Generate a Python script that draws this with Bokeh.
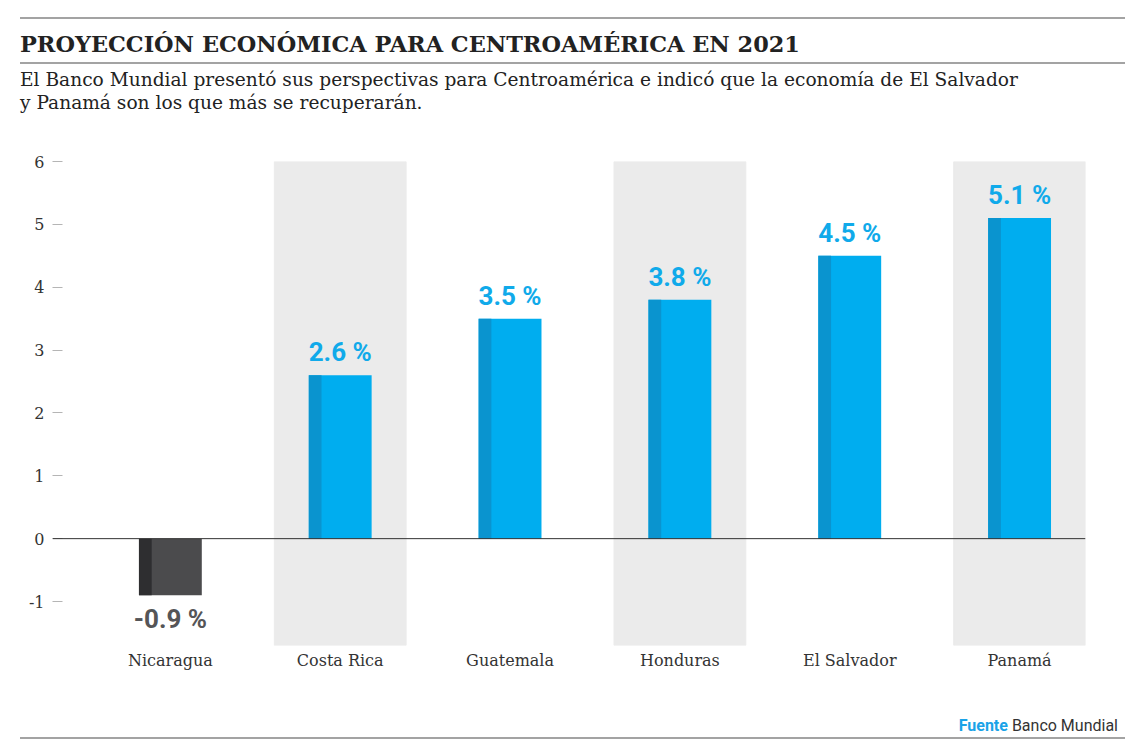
from bokeh.plotting import figure
from bokeh.models import ColumnDataSource, Span, Div, FixedTicker
from bokeh.layouts import column
from bokeh.core.properties import value
from bokeh.embed import file_html
from bokeh.resources import INLINE

countries = ["Nicaragua", "Costa Rica", "Guatemala", "Honduras", "El Salvador", "Panamá"]
growth = [-0.9, 2.6, 3.5, 3.8, 4.5, 5.1]
banded = ["Costa Rica", "Honduras", "Panamá"]
y_ticks = [-1, 0, 1, 2, 3, 4, 5, 6]
y_min, y_max = -1.7, 6

title_text = "PROYECCIÓN ECONÓMICA PARA CENTROAMÉRICA EN 2021"
subtitle_lines = ["El Banco Mundial presentó sus perspectivas para Centroamérica e indicó que la economía de El Salvador",
                  "y Panamá son los que más se recuperarán."]
source_label = "Fuente"
source_name = "Banco Mundial"

SERIF = "DejaVu Serif"
BAR_W = 0.37
STRIP_W = 0.075

xs = list(range(len(countries)))
pos = [v >= 0 for v in growth]
src = ColumnDataSource(dict(
    x=xs,
    v=growth,
    strip_x=[x - BAR_W / 2 + STRIP_W / 2 for x in xs],
    fill=["#00adef" if p else "#4b4b4d" for p in pos],
    strip=["#0a94cf" if p else "#2e2e30" for p in pos],
    label=[f"{v} %" for v in growth],
    lcolor=["#10aaea" if p else "#555557" for p in pos],
    yoff=[-8 if p else 9 for p in pos],
    base=["bottom" if p else "top" for p in pos],
))
band_src = ColumnDataSource(dict(x=[countries.index(c) for c in banded],
                                 top=[y_max] * len(banded), bottom=[y_min] * len(banded)))

p = figure(width=1140, height=570, x_range=(-0.694, 5.388), y_range=(y_min, y_max),
           output_backend="svg", toolbar_location=None,
           min_border_left=52, min_border_right=55, min_border_top=31, min_border_bottom=55)
p.outline_line_color = None
p.grid.visible = False
p.background_fill_color = "white"
p.border_fill_color = "white"

p.vbar(x="x", top="top", bottom="bottom", width=0.776, source=band_src, color="#ebebeb")
p.add_layout(Span(location=0, dimension="width", line_color="#333333", line_width=1))
p.vbar(x="x", top="v", bottom=0, width=BAR_W, source=src, fill_color="fill", line_color=None)
p.vbar(x="strip_x", top="v", bottom=0, width=STRIP_W, source=src, fill_color="strip", line_color=None)
p.text(x="x", y="v", text="label", source=src, text_color="lcolor", y_offset="yoff",
       text_baseline="base", text_align="center", text_font=value("Roboto"),
       text_font_style="bold", text_font_size="26px")

ya = p.yaxis[0]
ya.ticker = FixedTicker(ticks=y_ticks)
ya.major_label_overrides = {t: str(t) for t in y_ticks}
ya.axis_line_color = None
ya.major_tick_out = 0
ya.major_tick_in = 10
ya.major_tick_line_color = "#b5b5b5"
ya.minor_tick_line_color = None
ya.major_label_standoff = 8
ya.major_label_text_font = SERIF
ya.major_label_text_font_size = "16px"
ya.major_label_text_color = "#333333"

xa = p.xaxis[0]
xa.ticker = FixedTicker(ticks=xs)
xa.major_label_overrides = {i: c for i, c in enumerate(countries)}
xa.axis_line_color = None
xa.major_tick_line_color = None
xa.major_tick_out = 0
xa.major_tick_in = 0
xa.minor_tick_line_color = None
xa.major_label_standoff = 5
xa.major_label_text_font = SERIF
xa.major_label_text_font_size = "16px"
xa.major_label_text_color = "#333333"

head_html = f"""
<div style="position:relative;width:1140px;height:130px;font-family:'{SERIF}';color:#222;">
<div style="position:absolute;left:20px;top:17px;width:1105px;height:0;border-top:2px solid #a3a3a3;"></div>
<div style="position:absolute;left:20px;top:28px;font-weight:bold;font-size:22.4px;white-space:nowrap;">{title_text}</div>
<div style="position:absolute;left:20px;top:62px;width:1105px;height:0;border-top:2px solid #a3a3a3;"></div>
<div style="position:absolute;left:20px;top:68px;font-size:18.6px;line-height:23px;white-space:nowrap;">{subtitle_lines[0]}<br>{subtitle_lines[1]}</div>
</div>"""
foot_html = f"""
<div style="position:relative;width:1140px;height:52px;font-family:'Roboto';">
<div style="position:absolute;right:22px;top:15px;font-size:16px;color:#333;white-space:nowrap;"><span style="color:#1aa3e8;font-weight:bold;">{source_label}</span> {source_name}</div>
<div style="position:absolute;left:20px;top:37px;width:1105px;height:0;border-top:2px solid #a3a3a3;"></div>
</div>"""

head = Div(text=head_html, width=1140, height=130, margin=0)
foot = Div(text=foot_html, width=1140, height=52, margin=0)
p.margin = 0
layout = column(head, p, foot, spacing=0, margin=0)

open("out.html", "w").write(file_html(layout, INLINE))
